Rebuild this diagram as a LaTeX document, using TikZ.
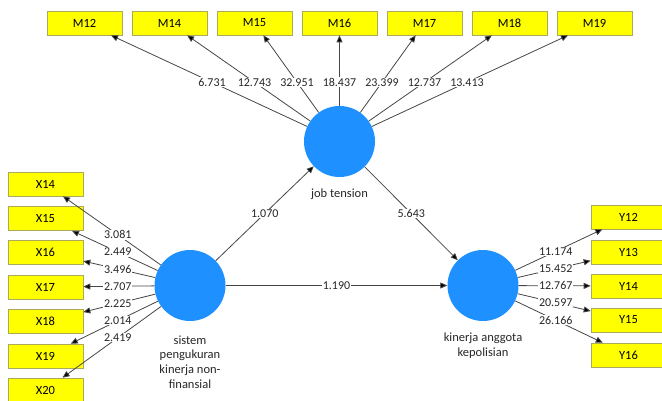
\documentclass[tikz,border=0pt]{standalone}
\usepackage{fontspec}
\setmainfont{Carlito}
\usetikzlibrary{arrows.meta,calc}
\definecolor{lvblue}{RGB}{30,144,255}
\definecolor{boxyel}{RGB}{255,255,0}
\definecolor{boxline}{RGB}{170,170,90}
\definecolor{linegray}{RGB}{70,70,70}
\tikzset{
  lv/.style={circle,fill=lvblue,draw=none,minimum size=71pt,inner sep=0pt},
  ind/.style={rectangle,fill=boxyel,draw=boxline,line width=0.6pt,minimum width=75pt,minimum height=24pt,inner sep=0pt,font=\fontsize{12.5}{14}\selectfont},
  conn/.style={draw=linegray,line width=0.8pt,-{Triangle[length=7pt,width=6pt,fill=black]}},
  val/.style={fill=white,inner sep=0.8pt,font=\fontsize{12}{14}\selectfont,text=black!85},
  lvname/.style={align=center,font=\fontsize{12.5}{14.7}\selectfont,text=black!85}
}
\begin{document}
\begin{tikzpicture}[x=1pt,y=-1pt]
\useasboundingbox (0,0) rectangle (662,401);
% latent variables
\node[lv] (jt) at (339.5,141.5) {};
\node[lv] (sys) at (190,285.5) {};
\node[lv] (kin) at (483,285.5) {};
% indicators M
\foreach \n/\x in {12/84.5,14/169.5,15/254.5,16/339.5,17/424.5,18/509.5,19/594.5}
  \node[ind] (m\n) at (\x,23) {M\n};
% indicators X
\foreach \n/\y in {14/184,15/218.5,16/252.5,17/287,18/321.5,19/356,20/390}
  \node[ind] (x\n) at (45.5,\y) {X\n};
% indicators Y
\foreach \n/\y in {12/217,13/252,14/286,15/320,16/355}
  \node[ind] (y\n) at (628.5,\y) {Y\n};
% connectors
\foreach \n in {12,14,15,16,17,18,19} \draw[conn] (jt) -- (m\n);
\foreach \n in {14,15,16,17,18,19,20} \draw[conn] (sys) -- (x\n);
\foreach \n in {12,13,14,15,16} \draw[conn] (kin) -- (y\n);
\draw[conn] (sys) -- (jt);
\draw[conn] (jt) -- (kin);
\draw[conn] (sys) -- (kin);
% values
\foreach \n/\v in {12/6.731,14/12.743,15/32.951,16/18.437,17/23.399,18/12.737,19/13.413}
  \node[val] (vm\n) at ($(jt)!0.5!(m\n)$) {\v};
\foreach \n/\v in {14/3.081,15/2.449,16/3.496,17/2.707,18/2.225,19/2.014,20/2.419}
  \node[val] (vx\n) at ($(sys)!0.5!(x\n)$) {\v};
\foreach \n/\v in {12/11.174,13/15.452,14/12.767,15/20.597,16/26.166}
  \node[val] (vy\n) at ($(kin)!0.5!(y\n)$) {\v};
\node[val] (v1) at ($(sys)!0.5!(jt)$) {1.070};
\node[val] (v2) at ($(jt)!0.5!(kin)$) {5.643};
\node[val] (v3) at ($(sys)!0.5!(kin)$) {1.190};
% names
\node[lvname] (jtname) at (339.5,194) {job tension};
\node[lvname] (sysname) at (190,362) {sistem\\pengukuran\\kinerja non-\\finansial};
\node[lvname] (kinname) at (483,345.5) {kinerja anggota\\kepolisian};
\end{tikzpicture}
\end{document}
